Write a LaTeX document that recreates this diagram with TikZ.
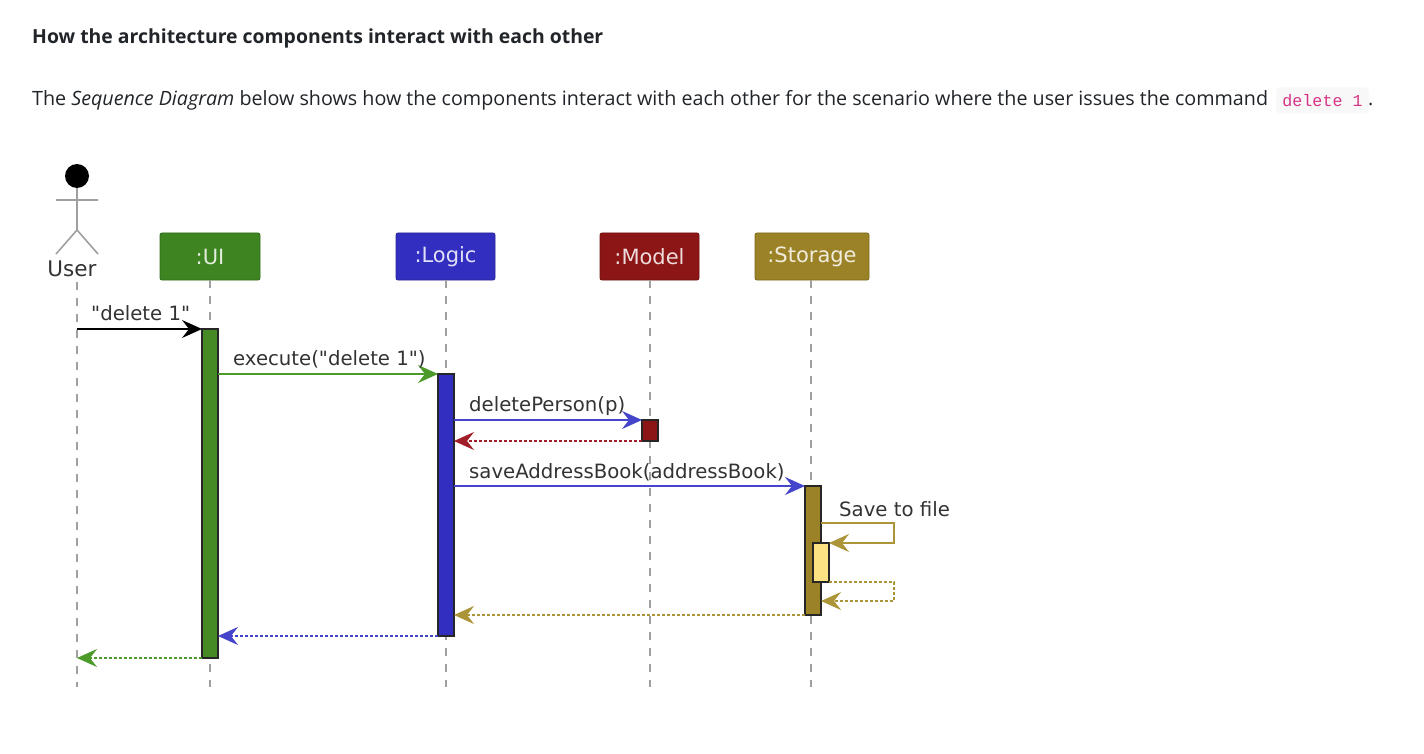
\documentclass[tikz,border=0pt]{standalone}
\usepackage{fontspec}
\setmainfont{Open Sans}
\newfontfamily\diafont{DejaVu Sans}
\newfontfamily\codefont{Liberation Mono}
\usetikzlibrary{arrows.meta}
\definecolor{uiC}{HTML}{3E8522}
\definecolor{uiB}{HTML}{458A25}
\definecolor{loC}{HTML}{322EC0}
\definecolor{moC}{HTML}{8C1515}
\definecolor{stC}{HTML}{9C8226}
\definecolor{uiL}{HTML}{4C9A2A}
\definecolor{loL}{HTML}{4545CC}
\definecolor{moL}{HTML}{A01F2A}
\definecolor{stL}{HTML}{AC9438}
\definecolor{inC}{HTML}{FCE283}
\definecolor{txt}{HTML}{212529}
\definecolor{dtxt}{HTML}{333333}
\definecolor{life}{HTML}{A0A0A0}
\definecolor{pink}{HTML}{D63384}
\definecolor{pill}{HTML}{F8F8F8}
\tikzset{
  x=1pt,y=-1pt,
  para/.style={inner sep=0pt,anchor=base west,text=txt,font=\fontsize{19.7}{24}\selectfont},
  partbox/.style={draw=#1!80!black,fill=#1,rounded corners=2pt,line width=.8pt,text=white!85!#1,inner sep=0pt,font=\diafont\fontsize{21}{24}\selectfont},
  lifeline/.style={draw=life,line width=1.3pt,dash pattern=on 8pt off 8pt},
  bar/.style={draw=black!85,fill=#1,line width=1.4pt,inner sep=0pt,outer sep=0pt,minimum width=16pt},
  msg/.style={draw=#1,line width=1.7pt,-{Stealth[length=20pt,width=18pt,inset=7pt,fill=#1]}},
  ret/.style={msg=#1,dash pattern=on 3pt off 2pt},
  mlabel/.style={inner sep=0pt,anchor=base west,text=dtxt,font=\diafont\fontsize{19.7}{24}\selectfont},
  actorline/.style={draw=life,line width=1.6pt},
}
\begin{document}
\begin{tikzpicture}
\useasboundingbox (0,0) rectangle (1424,754);
\fill[white] (0,0) rectangle (1424,754);
\node[para,font=\bfseries\fontsize{19.4}{24}\selectfont] (title) at (32,44) {How the architecture components interact with each other};
\node[para] (intro) at (32,106) {The \textit{Sequence Diagram} below shows how the components interact with each other for the scenario where the user issues the command};
\node[fill=pill,rounded corners=4pt,minimum width=93pt,minimum height=26pt,inner sep=0pt,text=pink,font=\codefont\fontsize{16.7}{20}\selectfont] (code) at (1322.5,100.5) {delete 1};
\node[para,anchor=base west] (dot) at (1368,106) {.};
% participants
\node[partbox=uiC,minimum width=100pt,minimum height=47pt] (ui) at (210,256.5) {:UI};
\node[partbox=loC,minimum width=99pt,minimum height=47pt] (logic) at (445.5,256.5) {:Logic};
\node[partbox=moC,minimum width=99pt,minimum height=47pt] (model) at (649.5,256.5) {:Model};
\node[partbox=stC,minimum width=114pt,minimum height=47pt] (storage) at (812,256.5) {:Storage};
% actor
\node[circle,fill=black,minimum size=24pt,inner sep=0pt] (head) at (77,176) {};
\coordinate (hip) at (77,230);
\coordinate (armL) at (56,200);
\coordinate (armR) at (98,200);
\coordinate (legL) at (56,254);
\coordinate (legR) at (98,254);
\draw[actorline] (head.south) -- (hip) (armL) -- (armR) (legL) -- (hip) -- (legR);
\node[inner sep=0pt,text=dtxt,font=\diafont\fontsize{21.5}{24}\selectfont] (user) at (72,268.5) {User};
% lifeline ends
\coordinate (userTop) at (77,282);
\coordinate (userEnd) at (77,687);
\coordinate (uiEnd) at (210,687);
\coordinate (logicEnd) at (446,687);
\coordinate (modelEnd) at (650,687);
\coordinate (storageEnd) at (811,687);
\draw[lifeline] (userTop) -- (userEnd);
\draw[lifeline] (ui.south) -- (uiEnd);
\draw[lifeline] (logic.south -| logicEnd) -- (logicEnd);
\draw[lifeline] (model.south -| modelEnd) -- (modelEnd);
\draw[lifeline] (storage.south -| storageEnd) -- (storageEnd);
% activation bars
\node[bar=uiB,minimum height=329pt] (uiBar) at (210,493.5) {};
\node[bar=loC,minimum height=262pt] (logicBar) at (446,505) {};
\node[bar=moC,minimum height=21pt] (modelBar) at (650,430.5) {};
\node[bar=stC,minimum height=129pt] (storageBar) at (813,550.5) {};
\node[bar=inC,minimum height=39pt] (innerBar) at (821,562.5) {};
% free ends on the user's lifeline
\coordinate (userOut) at (77,329);
\coordinate (userIn) at (77,658);
% messages
\draw[msg=black] (userOut) -- (uiBar.north west);
\node[mlabel] (m1) at (91,320) {"delete 1"};
\draw[msg=uiL] (uiBar.east |- 0,374) -- (logicBar.north west);
\node[mlabel] (m2) at (233,365) {execute("delete 1")};
\draw[msg=loL] (logicBar.east |- 0,420) -- (modelBar.north west);
\node[mlabel] (m3) at (469,411) {deletePerson(p)};
\draw[ret=moL] (modelBar.south west) -- (logicBar.east |- 0,441);
\draw[msg=loL] (logicBar.east |- 0,486) -- (storageBar.north west);
\node[mlabel] (m4) at (469,478) {saveAddressBook(addressBook)};
\draw[msg=stL] (storageBar.east |- 0,523) -- (894,523) -- (894,543) -- (innerBar.north east);
\node[mlabel] (m5) at (839,516) {Save to file};
\draw[ret=stL] (innerBar.south east) -- (894,582) -- (894,601) -- (storageBar.east |- 0,601);
\draw[ret=stL] (storageBar.south west) -- (logicBar.east |- 0,615);
\draw[ret=loL] (logicBar.south west) -- (uiBar.east |- 0,636);
\draw[ret=uiL] (uiBar.south west) -- (userIn);
\end{tikzpicture}
\end{document}
